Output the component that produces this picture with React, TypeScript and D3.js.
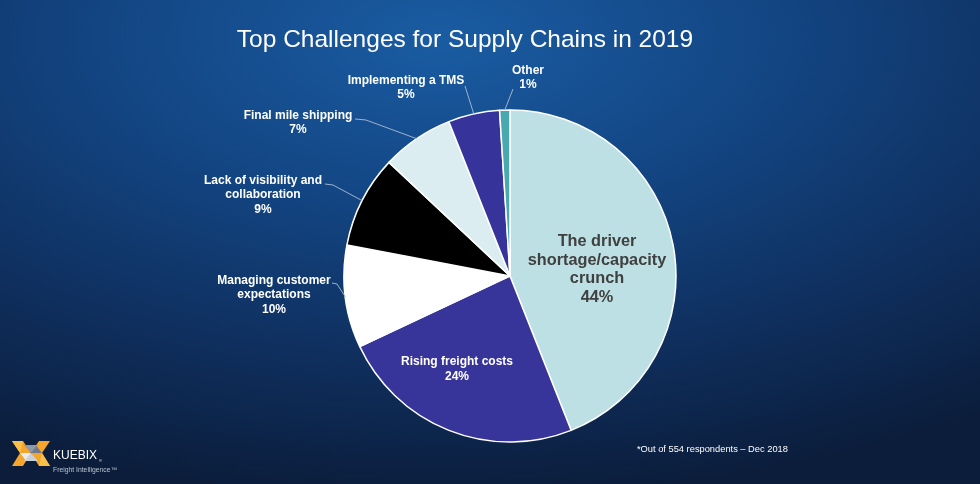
import React from "react";
import * as d3 from "d3";

const categories = [
  "The driver shortage/capacity crunch",
  "Rising freight costs",
  "Managing customer expectations",
  "Lack of visibility and collaboration",
  "Final mile shipping",
  "Implementing a TMS",
  "Other",
];
const values = [44, 24, 10, 9, 7, 5, 1];
const colors = ["#bde0e4", "#37349a", "#ffffff", "#000000", "#dcedf1", "#36339a", "#4aa9ae"];

const W = 980;
const H = 484;
const CX = 510;
const CY = 276;
const R = 166;

type Lab = { idx: number; lines: string[]; x: number; y: number; lead?: [number, number][] };
const outerLabels: Lab[] = [
  { idx: 6, lines: ["Other", "1%"], x: 528, y: 73.5, lead: [[513, 89]] },
  { idx: 5, lines: ["Implementing a TMS", "5%"], x: 406, y: 83.5, lead: [[465, 86]] },
  { idx: 4, lines: ["Final mile shipping", "7%"], x: 298, y: 118.5, lead: [[355, 119], [366, 120]] },
  { idx: 3, lines: ["Lack of visibility and", "collaboration", "9%"], x: 263, y: 183.5, lead: [[325, 184], [333, 185]] },
  { idx: 2, lines: ["Managing customer", "expectations", "10%"], x: 274, y: 283.5, lead: [[332, 283], [337, 284]] },
];

export default function App() {
  const pie = d3.pie<number>().sort(null).value((d) => d).startAngle(0).endAngle(Math.PI * 2);
  const arcs = pie(values);
  const arcGen = d3.arc<d3.PieArcDatum<number>>().innerRadius(0).outerRadius(R);
  const edge = (a: d3.PieArcDatum<number>): [number, number] => {
    const m = (a.startAngle + a.endAngle) / 2;
    return [CX + R * Math.sin(m), CY - R * Math.cos(m)];
  };
  const line = d3.line();
  const font = "Arial, 'Liberation Sans', Helvetica, sans-serif";

  return (
    <div style={{ position: "fixed", left: 0, top: 0, width: W, height: H }}>
      <svg width={W} height={H} style={{ display: "block" }}>
        <defs>
          <radialGradient id="bg" cx="0.45" cy="0.08" r="0.95" fx="0.45" fy="0.08">
            <stop offset="0" stopColor="#1a5ca2" />
            <stop offset="0.35" stopColor="#134684" />
            <stop offset="0.7" stopColor="#0f2f5e" />
            <stop offset="1" stopColor="#0b1d3b" />
          </radialGradient>
        </defs>
        <rect x={0} y={0} width={W} height={H} fill="url(#bg)" />
        <text x={465} y={47} textAnchor="middle" fill="#ffffff" fontFamily={font} fontSize={24.5}>
          Top Challenges for Supply Chains in 2019
        </text>
        <g transform={`translate(${CX},${CY})`}>
          {arcs.map((a, i) => (
            <path key={categories[i]} d={arcGen(a) || ""} fill={colors[i]} stroke="#ffffff" strokeWidth={1.5} strokeLinejoin="round" />
          ))}
        </g>
        {outerLabels.map((l) => {
          const pts: [number, number][] = [...(l.lead || []), edge(arcs[l.idx])];
          return (
            <g key={l.idx}>
              <path d={line(pts) || ""} fill="none" stroke="#9db3cc" strokeWidth={1} />
              <text textAnchor="middle" fill="#ffffff" fontFamily={font} fontWeight="bold" fontSize={12}>
                {l.lines.map((s, j) => (
                  <tspan key={j} x={l.x} y={l.y + j * 14.5}>{s}</tspan>
                ))}
              </text>
            </g>
          );
        })}
        <text textAnchor="middle" fill="#ffffff" fontFamily={font} fontWeight="bold" fontSize={12}>
          <tspan x={457} y={365}>Rising freight costs</tspan>
          <tspan x={457} y={380}>24%</tspan>
        </text>
        <text textAnchor="middle" fill="#404040" fontFamily={font} fontWeight="bold" fontSize={16.3}>
          <tspan x={597} y={246}>The driver</tspan>
          <tspan x={597} y={264.5}>shortage/capacity</tspan>
          <tspan x={597} y={283}>crunch</tspan>
          <tspan x={597} y={301.5}>44%</tspan>
        </text>
        <text x={637} y={452} fill="#ffffff" fontFamily={font} fontSize={9.3}>
          *Out of 554 respondents – Dec 2018
        </text>
        <g>
          <polygon points="12,441 23,441 31,453 23,466 12,466 20,453" fill="#f3a52c" />
          <polygon points="12,441 23,441 20,453" fill="#f8c04a" />
          <polygon points="50,441 39,441 31,453 39,466 50,466 42,453" fill="#f3a52c" />
          <polygon points="50,466 39,466 42,453" fill="#f8c04a" />
          <polygon points="31,453 24,445 38,445" fill="#8e99a8" />
          <polygon points="31,453 24,461 38,461" fill="#c9d0d8" />
          <polygon points="20,453 31,453 25.5,460" fill="#e8ebef" />
          <polygon points="31,453 42,453 36.5,446" fill="#6f7b8c" />
        </g>
        <text x={53} y={459} fill="#ffffff" fontFamily={font} fontSize={12}>KUEBIX</text>
        <text x={99} y={462} fill="#ffffff" fontFamily={font} fontSize={4}>®</text>
        <text x={53} y={471.5} fill="#b9c2ce" fontFamily={font} fontSize={6.8}>Freight Intelligence™</text>
      </svg>
    </div>
  );
}
